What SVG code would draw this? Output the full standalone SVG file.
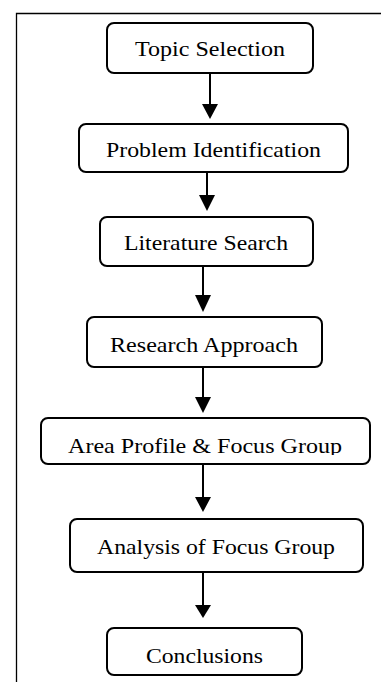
<svg xmlns="http://www.w3.org/2000/svg" width="381" height="682" viewBox="0 0 381 682">
<style>
.box{fill:#fff;stroke:#000;stroke-width:2}
.t{font-family:"Liberation Serif","Times New Roman",serif;font-size:22px;fill:#000;text-anchor:middle}
.c{stroke:#000;stroke-width:2;fill:none}
.h{fill:#000;stroke:none}
</style>
<defs>
<clipPath id="clip5"><rect x="41" y="418" width="329" height="37"/></clipPath>
</defs>
<rect x="0" y="0" width="381" height="682" fill="#fff"/>
<path d="M16.5 682 V13.5 H381" fill="none" stroke="#000" stroke-width="1.3"/>
<g id="n1"><rect class="box" x="107" y="23" width="206" height="50" rx="7"/><text class="t" x="210" y="56" textLength="150" lengthAdjust="spacingAndGlyphs">Topic Selection</text></g>
<g id="n2"><rect class="box" x="79" y="124" width="269" height="48" rx="7"/><text class="t" x="213.5" y="157" textLength="215" lengthAdjust="spacingAndGlyphs">Problem Identification</text></g>
<g id="n3"><rect class="box" x="100" y="217" width="213" height="49" rx="7"/><text class="t" x="206" y="250" textLength="164" lengthAdjust="spacingAndGlyphs">Literature Search</text></g>
<g id="n4"><rect class="box" x="87" y="317" width="235" height="50" rx="7"/><text class="t" x="204" y="352" textLength="188" lengthAdjust="spacingAndGlyphs">Research Approach</text></g>
<g id="n5"><rect class="box" x="41" y="418" width="329" height="46" rx="7"/><text class="t" x="205" y="453" textLength="274" lengthAdjust="spacingAndGlyphs" clip-path="url(#clip5)">Area Profile &amp; Focus Group</text></g>
<g id="n6"><rect class="box" x="70" y="519" width="293" height="53" rx="7"/><text class="t" x="216" y="554" textLength="238" lengthAdjust="spacingAndGlyphs">Analysis of Focus Group</text></g>
<g id="n7"><rect class="box" x="107" y="628" width="195" height="47" rx="7"/><text class="t" x="204.5" y="663" textLength="117" lengthAdjust="spacingAndGlyphs">Conclusions</text></g>
<g id="connectors">
<line class="c" x1="210" y1="73" x2="210" y2="105"/><polygon class="h" points="202,104 218,104 210,119"/>
<line class="c" x1="207" y1="173" x2="207" y2="196"/><polygon class="h" points="199,195 215,195 207,211"/>
<line class="c" x1="203" y1="266" x2="203" y2="296"/><polygon class="h" points="195,295 211,295 203,312"/>
<line class="c" x1="203" y1="367" x2="203" y2="398"/><polygon class="h" points="195,397 211,397 203,413"/>
<line class="c" x1="203" y1="464" x2="203" y2="498"/><polygon class="h" points="195,497 211,497 203,512"/>
<line class="c" x1="203" y1="572" x2="203" y2="606"/><polygon class="h" points="195,605 211,605 203,618"/>
</g>
</svg>
